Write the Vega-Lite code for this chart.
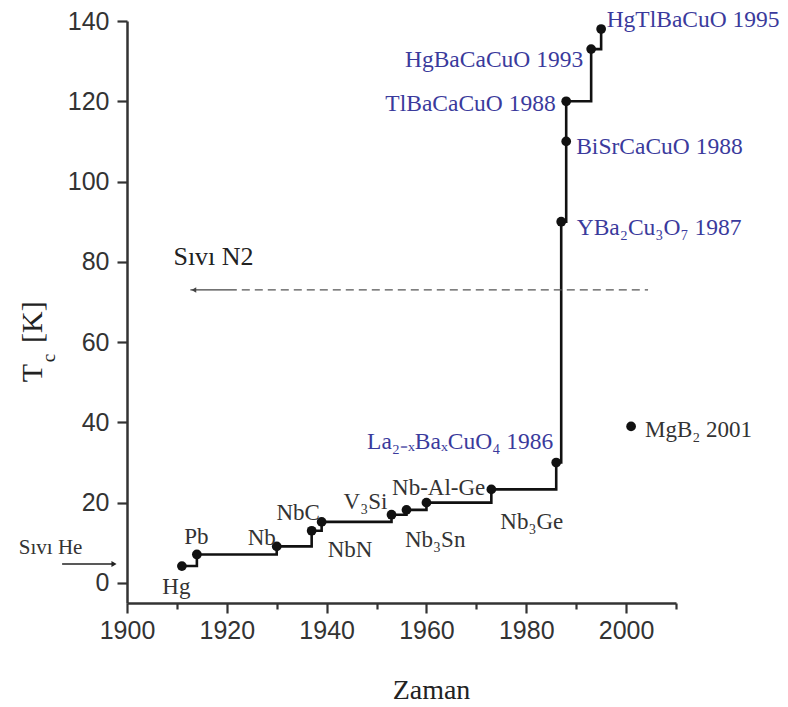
{
  "$schema": "https://vega.github.io/schema/vega-lite/v6.json",
  "autosize": {"type": "none"},
  "padding": {"left": 127, "top": 21, "right": 112, "bottom": 104},
  "width": 549,
  "height": 582,
  "background": "white",
  "config": {
    "view": {"stroke": null},
    "axis": {
      "domainColor": "#333",
      "domainWidth": 2.5,
      "tickColor": "#333",
      "tickWidth": 2.2,
      "labelFont": "Liberation Sans",
      "labelFontSize": 25,
      "labelColor": "#333",
      "grid": false,
      "titleFont": "Liberation Serif",
      "titleFontWeight": "normal",
      "titleColor": "#222"
    }
  },
  "datasets": {
    "tc": [
      {"i": 1, "year": 1911, "tc": 4.2, "series": "record"},
      {"i": 2, "year": 1914, "tc": 7.1, "series": "record"},
      {"i": 3, "year": 1930, "tc": 9.1, "series": "record"},
      {"i": 4, "year": 1937, "tc": 13.0, "series": "record"},
      {"i": 5, "year": 1939, "tc": 15.2, "series": "record"},
      {"i": 6, "year": 1953, "tc": 17.0, "series": "record"},
      {"i": 7, "year": 1956, "tc": 18.2, "series": "record"},
      {"i": 8, "year": 1960, "tc": 20.0, "series": "record"},
      {"i": 9, "year": 1973, "tc": 23.3, "series": "record"},
      {"i": 10, "year": 1986, "tc": 30, "series": "record"},
      {"i": 11, "year": 1987, "tc": 90, "series": "record"},
      {"i": 12, "year": 1988, "tc": 110, "series": "record"},
      {"i": 13, "year": 1988, "tc": 120, "series": "record"},
      {"i": 14, "year": 1993, "tc": 133, "series": "record"},
      {"i": 15, "year": 1995, "tc": 138, "series": "record"},
      {"i": 16, "year": 2001, "tc": 39, "series": "other"}
    ],
    "rules": [
      {"kind": "n2solid", "x1": 1912.7, "x2": 1922, "y": 73},
      {"kind": "n2dash", "x1": 1923, "x2": 2004.4, "y": 73},
      {"kind": "he", "x1": 1887, "x2": 1897, "y": 4.7}
    ],
    "heads": [
      {"kind": "n2", "x": 1913.4, "y": 73},
      {"kind": "he", "x": 1897.4, "y": 4.7}
    ],
    "labels": [
      {"k": "bc", "x": 1909.9, "y": -1.0, "t": "Hg"},
      {"k": "bc", "x": 1913.9, "y": 11.5, "t": "Pb"},
      {"k": "bc", "x": 1927, "y": 11.2, "t": "Nb"},
      {"k": "bc", "x": 1934.3, "y": 17.5, "t": "NbC"},
      {"k": "bc", "x": 1944.7, "y": 8.2, "t": "NbN"},
      {"k": "bl", "x": 1943.4, "y": 20.2, "t": "V₃Si"},
      {"k": "bl", "x": 1953.1, "y": 23.6, "t": "Nb-Al-Ge"},
      {"k": "bl", "x": 1955.7, "y": 10.7, "t": "Nb₃Sn"},
      {"k": "bl", "x": 1974.8, "y": 15.3, "t": "Nb₃Ge"},
      {"k": "bl", "x": 2003.8, "y": 38.1, "t": "MgB₂  2001"},
      {"k": "ul", "x": 1990.1, "y": 88.4, "t": "YBa₂Cu₃O₇ 1987"},
      {"k": "ul", "x": 1990.0, "y": 108.6, "t": "BiSrCaCuO 1988"},
      {"k": "ul", "x": 1996.1, "y": 140.2, "t": "HgTlBaCuO 1995"},
      {"k": "ur", "x": 1985.4, "y": 35.2, "t": "La₂₋ₓBaₓCuO₄ 1986"},
      {"k": "ur", "x": 1985.9, "y": 119.4, "t": "TlBaCaCuO 1988"},
      {"k": "ur", "x": 1991.4, "y": 130.4, "t": "HgBaCaCuO 1993"},
      {"k": "he", "x": 1884.7, "y": 8.7, "t": "Sıvı He"},
      {"k": "n2", "x": 1909.3, "y": 81.2, "t": "Sıvı N2"},
      {"k": "tT", "x": 1883.0, "y": 50.0, "t": "T"},
      {"k": "tc", "x": 1885.6, "y": 55.0, "t": "c"},
      {"k": "tK", "x": 1883.0, "y": 59.8, "t": "[K]"}
    ]
  },
  "layer": [
    {
      "data": {"name": "tc"},
      "transform": [{"filter": "datum.series === 'record'"}],
      "mark": {"type": "line", "interpolate": "step-after", "color": "#111", "strokeWidth": 2.6},
      "encoding": {
        "x": {
          "field": "year", "type": "quantitative",
          "scale": {"domain": [1900, 2010], "nice": false, "zero": false},
          "axis": {
            "values": [1900, 1910, 1920, 1930, 1940, 1950, 1960, 1970, 1980, 1990, 2000, 2010],
            "format": "d",
            "labelExpr": "datum.value % 20 === 0 && datum.value <= 2000 ? datum.label : ''",
            "tickSize": {"condition": {"test": "datum.value % 20 === 0", "value": 10}, "value": 6},
            "labelPadding": 5,
            "labelFlush": false,
            "labelOverlap": false,
            "title": "Zaman",
            "titleFontSize": 28,
            "titleX": 304,
            "titleY": 95,
            "titleAlign": "center",
            "titleBaseline": "alphabetic"
          }
        },
        "y": {
          "field": "tc", "type": "quantitative",
          "scale": {"domain": [-5, 140], "nice": false, "zero": false},
          "axis": {
            "values": [0, 20, 40, 60, 80, 100, 120, 140],
            "tickSize": 10,
            "labelPadding": 8,
            "labelFlush": false,
            "labelOverlap": false,
            "title": null
          }
        },
        "order": {"field": "i", "type": "quantitative"}
      }
    },
    {
      "data": {"name": "tc"},
      "mark": {"type": "point", "filled": true, "shape": "circle", "size": 95, "color": "#111", "opacity": 1},
      "encoding": {
        "x": {"field": "year", "type": "quantitative"},
        "y": {"field": "tc", "type": "quantitative"}
      }
    },
    {
      "data": {"name": "rules"},
      "transform": [{"filter": "datum.kind === 'n2solid'"}],
      "mark": {"type": "rule", "color": "#444", "strokeWidth": 1.4},
      "encoding": {
        "x": {"field": "x1", "type": "quantitative"},
        "x2": {"field": "x2"},
        "y": {"field": "y", "type": "quantitative"}
      }
    },
    {
      "data": {"name": "rules"},
      "transform": [{"filter": "datum.kind === 'n2dash'"}],
      "mark": {"type": "rule", "color": "#555", "strokeWidth": 1.4, "strokeDash": [8, 5]},
      "encoding": {
        "x": {"field": "x1", "type": "quantitative"},
        "x2": {"field": "x2"},
        "y": {"field": "y", "type": "quantitative"}
      }
    },
    {
      "data": {"name": "rules"},
      "transform": [{"filter": "datum.kind === 'he'"}],
      "mark": {"type": "rule", "color": "#222", "strokeWidth": 1.6},
      "encoding": {
        "x": {"field": "x1", "type": "quantitative"},
        "x2": {"field": "x2"},
        "y": {"field": "y", "type": "quantitative"}
      }
    },
    {
      "data": {"name": "heads"},
      "transform": [{"filter": "datum.kind === 'n2'"}],
      "mark": {"type": "point", "shape": "triangle-left", "filled": true, "size": 30, "color": "#444", "opacity": 1},
      "encoding": {
        "x": {"field": "x", "type": "quantitative"},
        "y": {"field": "y", "type": "quantitative"}
      }
    },
    {
      "data": {"name": "heads"},
      "transform": [{"filter": "datum.kind === 'he'"}],
      "mark": {"type": "point", "shape": "triangle-right", "filled": true, "size": 35, "color": "#222", "opacity": 1},
      "encoding": {
        "x": {"field": "x", "type": "quantitative"},
        "y": {"field": "y", "type": "quantitative"}
      }
    },
    {
      "data": {"name": "labels"},
      "transform": [{"filter": "datum.k === 'bc'"}],
      "mark": {"type": "text", "font": "Liberation Serif", "fontSize": 23, "color": "#333", "align": "center", "baseline": "middle"},
      "encoding": {
        "x": {"field": "x", "type": "quantitative"},
        "y": {"field": "y", "type": "quantitative"},
        "text": {"field": "t"}
      }
    },
    {
      "data": {"name": "labels"},
      "transform": [{"filter": "datum.k === 'bl'"}],
      "mark": {"type": "text", "font": "Liberation Serif", "fontSize": 23, "color": "#333", "align": "left", "baseline": "middle"},
      "encoding": {
        "x": {"field": "x", "type": "quantitative"},
        "y": {"field": "y", "type": "quantitative"},
        "text": {"field": "t"}
      }
    },
    {
      "data": {"name": "labels"},
      "transform": [{"filter": "datum.k === 'ul'"}],
      "mark": {"type": "text", "font": "Liberation Serif", "fontSize": 23.5, "color": "#3a3a9c", "align": "left", "baseline": "middle"},
      "encoding": {
        "x": {"field": "x", "type": "quantitative"},
        "y": {"field": "y", "type": "quantitative"},
        "text": {"field": "t"}
      }
    },
    {
      "data": {"name": "labels"},
      "transform": [{"filter": "datum.k === 'ur'"}],
      "mark": {"type": "text", "font": "Liberation Serif", "fontSize": 23.5, "color": "#3a3a9c", "align": "right", "baseline": "middle"},
      "encoding": {
        "x": {"field": "x", "type": "quantitative"},
        "y": {"field": "y", "type": "quantitative"},
        "text": {"field": "t"}
      }
    },
    {
      "data": {"name": "labels"},
      "transform": [{"filter": "datum.k === 'he'"}],
      "mark": {"type": "text", "font": "Liberation Serif", "fontSize": 21, "color": "#333", "align": "center", "baseline": "middle"},
      "encoding": {
        "x": {"field": "x", "type": "quantitative"},
        "y": {"field": "y", "type": "quantitative"},
        "text": {"field": "t"}
      }
    },
    {
      "data": {"name": "labels"},
      "transform": [{"filter": "datum.k === 'n2'"}],
      "mark": {"type": "text", "font": "Liberation Serif", "fontSize": 26, "color": "#222", "align": "left", "baseline": "middle"},
      "encoding": {
        "x": {"field": "x", "type": "quantitative"},
        "y": {"field": "y", "type": "quantitative"},
        "text": {"field": "t"}
      }
    },
    {
      "data": {"name": "labels"},
      "transform": [{"filter": "datum.k === 'tT' || datum.k === 'tK'"}],
      "mark": {"type": "text", "font": "Liberation Serif", "fontSize": 30, "color": "#222", "align": "left", "baseline": "alphabetic", "angle": 270},
      "encoding": {
        "x": {"field": "x", "type": "quantitative"},
        "y": {"field": "y", "type": "quantitative"},
        "text": {"field": "t"}
      }
    },
    {
      "data": {"name": "labels"},
      "transform": [{"filter": "datum.k === 'tc'"}],
      "mark": {"type": "text", "font": "Liberation Serif", "fontSize": 19, "color": "#222", "align": "left", "baseline": "alphabetic", "angle": 270},
      "encoding": {
        "x": {"field": "x", "type": "quantitative"},
        "y": {"field": "y", "type": "quantitative"},
        "text": {"field": "t"}
      }
    }
  ]
}
